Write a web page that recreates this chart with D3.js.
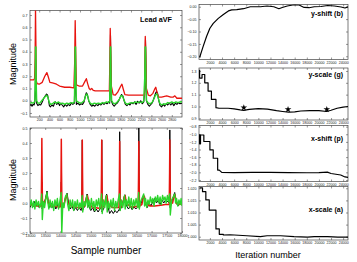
<!DOCTYPE html>
<html>
<head>
<meta charset="utf-8">
<script src="https://cdn.jsdelivr.net/npm/d3@7/dist/d3.min.js"></script>
<style>
  body { margin: 0; background: #fff; }
  text { font-family: "Liberation Sans", Arial, sans-serif; }
</style>
</head>
<body>
<div id="chart"></div>
<script>
// ---- ECG lead aVF, samples 20..3000 ----
const topRed = [[20,0.17],[90,0.17],[110,0.18],[120,0.35],[128,0.76],[136,0.45],[145,0.16],[160,0.14],[200,0.135],[260,0.15],[310,0.2],[350,0.23],[375,0.2],[410,0.15],[460,0.145],[510,0.14],[540,0.135],[600,0.12],[700,0.11],[800,0.11],[880,0.105],[895,0.3],[906,0.655],[916,0.4],[930,0.13],[980,0.12],[1050,0.12],[1100,0.16],[1125,0.18],[1150,0.14],[1180,0.1],[1200,0.09],[1230,0.1],[1260,0.085],[1300,0.08],[1400,0.08],[1500,0.08],[1575,0.08],[1585,0.3],[1593,0.59],[1603,0.4],[1615,0.12],[1650,0.05],[1690,0.045],[1740,0.07],[1800,0.12],[1822,0.135],[1845,0.1],[1880,0.05],[1950,0.045],[2100,0.045],[2265,0.045],[2272,0.3],[2280,0.525],[2290,0.4],[2302,0.1],[2340,0.045],[2380,0.04],[2430,0.06],[2470,0.1],[2485,0.11],[2510,0.07],[2540,0.03],[2600,0.03],[2700,0.04],[2780,0.03],[2830,0.03],[2860,0.04],[2900,0.02],[3000,0.02]];
const topBlack = [[20,-0.04],[40,-0.03],[60,-0.045],[80,-0.03],[100,-0.035],[115,-0.01],[124,0.1],[132,0.33],[140,0.1],[150,-0.02],[175,-0.04],[200,-0.03],[230,-0.035],[260,-0.01],[290,0.02],[320,0.04],[345,0.055],[365,0.045],[385,0.0],[400,-0.04],[420,-0.05],[450,-0.035],[480,-0.045],[500,-0.02],[520,-0.01],[545,-0.03],[570,-0.015],[600,-0.04],[625,-0.02],[650,-0.035],[680,-0.05],[710,-0.03],[740,-0.045],[770,-0.03],[800,-0.04],[830,-0.02],[860,-0.03],[890,-0.02],[900,0.2],[908,0.43],[916,0.1],[930,-0.03],[960,-0.02],[990,-0.035],[1020,-0.025],[1050,-0.03],[1080,-0.01],[1105,0.04],[1125,0.065],[1145,0.05],[1170,0.0],[1200,-0.03],[1230,-0.045],[1260,-0.035],[1290,-0.045],[1320,-0.03],[1350,-0.04],[1380,-0.025],[1410,-0.035],[1440,-0.02],[1470,-0.03],[1500,-0.015],[1530,-0.025],[1560,-0.01],[1582,-0.02],[1590,0.2],[1598,0.54],[1606,0.3],[1616,0.0],[1640,-0.03],[1670,-0.045],[1700,-0.03],[1730,-0.02],[1760,0.0],[1790,0.03],[1815,0.05],[1840,0.04],[1865,0.0],[1890,-0.03],[1920,-0.04],[1950,-0.025],[1980,-0.035],[2010,-0.015],[2040,-0.025],[2070,-0.01],[2100,-0.03],[2130,-0.005],[2160,-0.02],[2190,0.0],[2220,-0.025],[2250,-0.01],[2272,0.1],[2284,0.5],[2292,0.3],[2302,0.0],[2330,-0.03],[2360,-0.045],[2390,-0.03],[2420,-0.015],[2450,0.02],[2480,0.06],[2500,0.075],[2520,0.06],[2545,0.0],[2570,-0.04],[2600,-0.05],[2630,-0.03],[2660,-0.045],[2690,-0.025],[2720,-0.035],[2750,-0.02],[2780,-0.035],[2810,-0.02],[2840,-0.04],[2870,-0.02],[2900,-0.03],[2930,-0.015],[2960,-0.025],[3000,-0.02]];
const topGreen = [[20,-0.02],[50,-0.015],[80,-0.02],[100,-0.015],[115,0.0],[122,0.2],[128,0.44],[136,0.44],[142,0.15],[150,0.0],[175,-0.02],[210,-0.02],[250,0.0],[290,0.02],[320,0.035],[345,0.045],[370,0.03],[395,-0.01],[420,-0.03],[460,-0.025],[500,-0.01],[540,-0.02],[580,-0.01],[620,-0.025],[660,-0.02],[700,-0.03],[740,-0.02],[780,-0.025],[820,-0.015],[860,-0.02],[890,-0.01],[898,0.2],[905,0.44],[913,0.44],[920,0.15],[930,0.0],[960,-0.01],[1000,-0.02],[1040,-0.015],[1080,0.0],[1110,0.04],[1130,0.055],[1150,0.04],[1175,0.0],[1200,-0.02],[1240,-0.03],[1280,-0.02],[1320,-0.025],[1360,-0.02],[1400,-0.025],[1440,-0.015],[1480,-0.02],[1520,-0.01],[1560,-0.015],[1582,-0.005],[1588,0.2],[1594,0.44],[1602,0.44],[1610,0.15],[1620,0.0],[1650,-0.02],[1690,-0.025],[1730,-0.01],[1770,0.01],[1805,0.04],[1830,0.04],[1860,0.01],[1890,-0.02],[1930,-0.03],[1970,-0.02],[2010,-0.015],[2050,-0.02],[2090,-0.01],[2130,-0.015],[2170,-0.01],[2210,-0.015],[2250,-0.005],[2270,0.2],[2278,0.44],[2286,0.44],[2294,0.15],[2305,0.0],[2340,-0.02],[2380,-0.025],[2420,-0.01],[2455,0.02],[2485,0.05],[2510,0.055],[2535,0.02],[2565,-0.02],[2600,-0.035],[2640,-0.025],[2680,-0.03],[2720,-0.015],[2760,-0.02],[2800,-0.01],[2840,-0.02],[2880,-0.01],[2920,-0.015],[2960,-0.01],[3000,-0.008]];

// ---- samples 13000..18000 ----
const lowRed = [[13000,-0.01],[13100,-0.015],[13200,-0.02],[13300,-0.02],[13370,-0.02],[13382,0.2],[13390,0.43],[13398,0.2],[13410,-0.02],[13460,-0.01],[13530,0.04],[13560,0.05],[13600,0.0],[13700,-0.02],[13800,-0.02],[13900,-0.025],[14010,-0.025],[14022,0.2],[14030,0.425],[14038,0.2],[14050,-0.02],[14120,-0.01],[14180,0.04],[14210,0.055],[14250,0.0],[14350,-0.02],[14450,-0.025],[14550,-0.03],[14700,-0.03],[14712,0.2],[14720,0.42],[14728,0.2],[14740,-0.03],[14800,-0.02],[14860,0.04],[14890,0.05],[14930,0.0],[15050,-0.03],[15150,-0.03],[15250,-0.035],[15340,-0.03],[15352,0.2],[15360,0.42],[15368,0.2],[15380,-0.03],[15440,-0.02],[15500,0.04],[15530,0.05],[15570,0.0],[15700,-0.03],[15800,-0.03],[15930,-0.03],[15942,0.2],[15950,0.41],[15958,0.2],[15970,-0.03],[16040,-0.02],[16100,0.04],[16130,0.05],[16170,0.0],[16300,-0.025],[16450,-0.025],[16560,-0.02],[16572,0.2],[16580,0.41],[16588,0.2],[16600,-0.02],[16680,-0.01],[16730,0.04],[16760,0.045],[16800,0.0],[16950,-0.02],[17100,-0.02],[17300,-0.015],[17450,-0.01],[17580,-0.01],[17592,0.2],[17600,0.42],[17608,0.2],[17620,-0.01],[17690,0.0],[17740,0.05],[17770,0.055],[17810,0.0],[17900,-0.01],[18000,-0.005]];
const lowBlack = [[13000,-0.03],[13050,0.0],[13100,-0.025],[13150,0.01],[13200,-0.02],[13250,0.0],[13300,-0.03],[13350,-0.01],[13382,0.0],[13390,0.14],[13398,-0.04],[13440,-0.01],[13500,0.02],[13560,0.08],[13600,0.01],[13650,-0.03],[13700,0.0],[13750,-0.03],[13800,-0.01],[13850,-0.04],[13900,-0.01],[13950,-0.03],[14022,0.0],[14030,0.14],[14038,-0.05],[14100,-0.02],[14160,0.03],[14220,0.065],[14270,0.0],[14320,-0.04],[14380,-0.02],[14440,-0.05],[14500,-0.03],[14560,-0.05],[14620,-0.03],[14680,-0.05],[14712,-0.02],[14720,0.42],[14728,-0.05],[14800,-0.02],[14880,0.06],[14930,-0.02],[15000,-0.05],[15060,-0.03],[15120,-0.06],[15180,-0.04],[15240,-0.06],[15300,-0.04],[15352,-0.03],[15360,0.42],[15368,-0.06],[15440,-0.03],[15520,0.06],[15570,-0.03],[15620,-0.07],[15680,-0.05],[15740,-0.07],[15800,-0.05],[15860,-0.065],[15942,-0.04],[15950,0.475],[15958,-0.05],[16020,-0.02],[16120,0.055],[16180,-0.02],[16240,-0.04],[16300,-0.02],[16360,-0.045],[16420,-0.025],[16480,-0.04],[16572,-0.02],[16580,0.5],[16588,-0.03],[16660,0.0],[16740,0.05],[16800,-0.01],[16860,-0.03],[16920,0.0],[16980,-0.02],[17040,0.01],[17100,0.03],[17160,0.0],[17220,0.02],[17280,-0.01],[17340,0.02],[17400,0.0],[17460,0.02],[17592,0.0],[17600,0.487],[17608,-0.03],[17680,0.02],[17760,0.07],[17810,0.0],[17870,-0.02],[17930,0.01],[18000,-0.01]];
const lowGreen = [[13000,-0.02],[13040,0.02],[13080,-0.03],[13120,0.01],[13160,-0.04],[13200,0.02],[13240,-0.02],[13280,0.01],[13320,-0.03],[13360,0.0],[13385,0.06],[13405,-0.11],[13440,0.01],[13480,-0.03],[13520,0.03],[13560,0.07],[13590,0.0],[13620,-0.04],[13660,0.02],[13700,-0.03],[13740,0.01],[13780,-0.05],[13820,0.02],[13860,-0.02],[13900,0.03],[13940,-0.04],[13980,0.01],[14025,0.07],[14045,-0.2],[14080,0.0],[14120,-0.03],[14160,0.04],[14210,0.06],[14240,-0.01],[14280,-0.05],[14320,0.02],[14360,-0.03],[14400,0.02],[14440,-0.05],[14480,0.01],[14520,-0.03],[14560,0.02],[14600,-0.04],[14640,0.0],[14680,-0.03],[14715,0.05],[14735,-0.06],[14780,0.01],[14820,-0.02],[14870,0.05],[14900,-0.03],[14940,0.02],[14980,-0.04],[15020,0.03],[15060,-0.03],[15100,0.01],[15140,-0.05],[15180,0.02],[15220,-0.02],[15260,0.03],[15300,-0.04],[15355,0.06],[15375,-0.07],[15420,0.02],[15460,-0.03],[15510,0.05],[15540,-0.06],[15580,0.01],[15620,-0.04],[15660,0.02],[15700,-0.03],[15740,0.03],[15780,-0.05],[15820,0.01],[15860,-0.03],[15900,0.02],[15945,0.06],[15965,-0.05],[16010,0.02],[16050,-0.03],[16110,0.05],[16130,-0.04],[16170,0.02],[16210,-0.02],[16250,0.04],[16290,-0.03],[16330,0.03],[16370,-0.04],[16410,0.02],[16450,-0.02],[16490,0.03],[16540,-0.03],[16575,0.07],[16595,-0.04],[16640,0.01],[16740,0.06],[16770,-0.02],[16800,0.03],[16840,-0.03],[16880,0.02],[16920,-0.01],[16960,0.04],[17000,0.0],[17040,0.03],[17080,-0.02],[17120,0.04],[17160,0.01],[17200,0.05],[17240,0.0],[17280,0.04],[17320,-0.01],[17360,0.05],[17400,0.02],[17440,0.04],[17480,0.0],[17520,0.05],[17560,0.01],[17595,0.06],[17615,-0.08],[17660,0.02],[17760,0.06],[17790,0.0],[17820,0.03],[17860,-0.02],[17900,0.02],[17940,-0.01],[17970,0.03],[18000,-0.02]];

// ---- parameter estimates vs iteration ----
const yShift = [[300,-0.205],[889,-0.16],[1444,-0.12],[2000,-0.087],[2556,-0.067],[3389,-0.047],[4222,-0.031],[5056,-0.017],[5611,-0.013],[6444,-0.012],[7556,-0.008],[8667,0.0],[10333,0.0],[11444,0.003],[12556,0.0],[13389,-0.008],[13944,-0.003],[14778,0.003],[15889,0.008],[16722,0.007],[17556,-0.003],[18389,-0.004],[19222,0.0],[20333,0.001],[21444,0.005],[22556,0.003],[23667,-0.001],[24300,-0.005],[24800,0.0]];
const yScale = [[300,1.31],[300,1.24],[700,1.24],[700,1.27],[1150,1.27],[1150,1.2],[1700,1.2],[1700,1.13],[2250,1.13],[2250,1.06],[3000,1.06],[3000,0.99],[3500,0.985],[5000,0.985],[6000,0.98],[7000,0.972],[7600,0.968],[8500,0.975],[10000,0.982],[11500,0.978],[13000,0.965],[14000,0.958],[15000,0.952],[16000,0.955],[17000,0.962],[18500,0.965],[20000,0.965],[21300,0.958],[22000,0.968],[23000,0.985],[24000,0.995],[24800,1.0]];
const yScaleStars = [[7600,0.99],[14900,0.975],[21300,0.975]];
const xShift = [[300,-1.0],[300,-1.25],[450,-1.25],[450,-1.02],[1000,-1.02],[1000,-1.19],[2000,-1.19],[2000,-1.41],[2550,-1.41],[2550,-1.63],[3280,-1.63],[3280,-1.94],[3550,-1.94],[3950,-2.0],[6000,-2.005],[9000,-2.0],[12000,-2.0],[15000,-2.005],[18000,-2.01],[20000,-2.005],[21400,-1.995],[22000,-2.03],[23600,-2.07],[24300,-2.12],[24800,-2.13]];
const xScale = [[300,1.0202],[780,1.0202],[780,1.0186],[1330,1.0186],[1330,1.0152],[1890,1.0152],[1890,1.011],[3000,1.011],[3000,1.0032],[3550,1.0032],[3550,1.001],[4220,1.001],[4220,1.0007],[5330,1.0008],[8110,1.0004],[10330,1.0],[11440,1.0004],[13670,1.0004],[15890,1.0],[18110,0.9998],[19220,1.0],[21440,1.0],[23110,0.9998],[24800,0.9998]];

const sampleTicksA = d3.range(200, 2801, 200);
const sampleTicksB = d3.range(13000, 18001, 500);
const iterTicks = d3.range(2000, 24001, 2000);

const W = 357, H = 262;
const svg = d3.select("#chart").append("svg").attr("width", W).attr("height", H);

let clipN = 0;
function panel(o) {
  const x = d3.scaleLinear().domain(o.xDomain).range([o.left, o.right]);
  const y = d3.scaleLinear().domain(o.yDomain).range([o.bottom, o.top]);
  const id = "clip" + (clipN++);
  svg.append("clipPath").attr("id", id).append("rect")
    .attr("x", o.left).attr("y", o.top)
    .attr("width", o.right - o.left).attr("height", o.bottom - o.top);

  const ax = (g) => {
    g.attr("font-size", 3.6).attr("font-family", "Liberation Sans, Arial, sans-serif");
    g.select(".domain").remove();
    g.selectAll(".tick line").attr("stroke", "#333").attr("stroke-width", 0.5);
    g.selectAll(".tick text").attr("fill", "#222");
  };
  svg.append("g").attr("transform", `translate(0,${o.bottom})`)
    .call(d3.axisBottom(x).tickValues(o.xTicks).tickSize(-2).tickPadding(1.8).tickFormat(d3.format("d"))).call(ax);
  svg.append("g").attr("transform", `translate(0,${o.top})`)
    .call(d3.axisTop(x).tickValues(o.xTicks).tickSize(-2).tickFormat("")).call(ax);
  svg.append("g").attr("transform", `translate(${o.left},0)`)
    .call(d3.axisLeft(y).tickValues(o.yTicks).tickSize(-2).tickPadding(2.5).tickFormat(d3.format(o.yFmt))).call(ax);
  svg.append("g").attr("transform", `translate(${o.right},0)`)
    .call(d3.axisRight(y).tickValues(o.yTicks).tickSize(-2).tickFormat("")).call(ax);

  svg.append("rect").attr("x", o.left).attr("y", o.top)
    .attr("width", o.right - o.left).attr("height", o.bottom - o.top)
    .attr("fill", "none").attr("stroke", "#444").attr("stroke-width", 0.7);

  const line = d3.line().x(d => x(d[0])).y(d => y(d[1]));
  const g = svg.append("g").attr("clip-path", `url(#${id})`);
  o.series.forEach(s => {
    g.append("path").datum(s.data).attr("d", line)
      .attr("fill", "none").attr("stroke", s.color).attr("stroke-width", s.width)
      .attr("stroke-linejoin", "round");
  });
  return { x, y, g };
}

// top left: Lead aVF
panel({
  left: 30, right: 182, top: 10.5, bottom: 117,
  xDomain: [20, 3000], yDomain: [-0.133, 0.737],
  xTicks: sampleTicksA, yTicks: d3.range(-0.1, 0.71, 0.1), yFmt: ".1f",
  series: [
    { data: topBlack, color: "#000", width: 1.1 },
    { data: topRed, color: "#e8140f", width: 1.3 },
    { data: topGreen, color: "#2bd52b", width: 1.4 }
  ]
});
svg.append("text").attr("x", 172).attr("y", 22).attr("text-anchor", "end")
  .attr("font-size", 7.2).attr("font-weight", "bold").text("Lead aVF");

// bottom left
panel({
  left: 30, right: 182, top: 128, bottom: 233,
  xDomain: [13000, 18000], yDomain: [-0.2, 0.5],
  xTicks: sampleTicksB, yTicks: d3.range(-0.2, 0.51, 0.1), yFmt: ".1f",
  series: [
    { data: lowBlack, color: "#000", width: 1.0 },
    { data: lowRed, color: "#e8140f", width: 1.5 },
    { data: lowGreen, color: "#2bd52b", width: 1.4 }
  ]
});

// right column
const right = { left: 199, right: 348, xDomain: [200, 24800], xTicks: iterTicks };
panel(Object.assign({}, right, {
  top: 4.5, bottom: 59.5, yDomain: [-0.213, 0.009],
  yTicks: [-0.2, -0.15, -0.1, -0.05, 0], yFmt: ".2f",
  series: [{ data: yShift, color: "#000", width: 1.2 }]
}));
const p2 = panel(Object.assign({}, right, {
  top: 68, bottom: 120, yDomain: [0.886, 1.325],
  yTicks: [0.9, 1.0, 1.1, 1.2, 1.3], yFmt: ".1f",
  series: [{ data: yScale, color: "#000", width: 1.2 }]
}));
p2.g.selectAll(".star").data(yScaleStars).join("path").attr("class", "star")
  .attr("transform", d => `translate(${p2.x(d[0])},${p2.y(d[1])})`)
  .attr("d", d3.symbol(d3.symbolStar, 14)).attr("fill", "#000");
panel(Object.assign({}, right, {
  top: 125.5, bottom: 181.5, yDomain: [-2.24, -0.77],
  yTicks: [-2.2, -2.0, -1.8, -1.6, -1.4, -1.2, -1.0, -0.8], yFmt: ".1f",
  series: [{ data: xShift, color: "#000", width: 1.2 }]
}));
panel(Object.assign({}, right, {
  top: 186.5, bottom: 240, yDomain: [0.99864, 1.02074],
  yTicks: [1.0, 1.005, 1.01, 1.015, 1.02], yFmt: ".3f",
  series: [{ data: xScale, color: "#000", width: 1.2 }]
}));

const titles = [["y-shift (b)", 16], ["y-scale (g)", 77], ["x-shift (p)", 141], ["x-scale (a)", 212]];
svg.selectAll(".ptitle").data(titles).join("text").attr("class", "ptitle")
  .attr("x", 343).attr("y", d => d[1]).attr("text-anchor", "end")
  .attr("font-size", 7).attr("font-weight", "bold").text(d => d[0]);

// axis titles
svg.append("text").attr("transform", "translate(16,64) rotate(-90)").attr("text-anchor", "middle")
  .attr("font-size", 9).text("Magnitude");
svg.append("text").attr("transform", "translate(16,180) rotate(-90)").attr("text-anchor", "middle")
  .attr("font-size", 9).text("Magnitude");
svg.append("text").attr("x", 106).attr("y", 254).attr("text-anchor", "middle")
  .attr("font-size", 10).text("Sample number");
svg.append("text").attr("x", 268).attr("y", 258).attr("text-anchor", "middle")
  .attr("font-size", 9).text("Iteration number");
</script>
</body>
</html>
